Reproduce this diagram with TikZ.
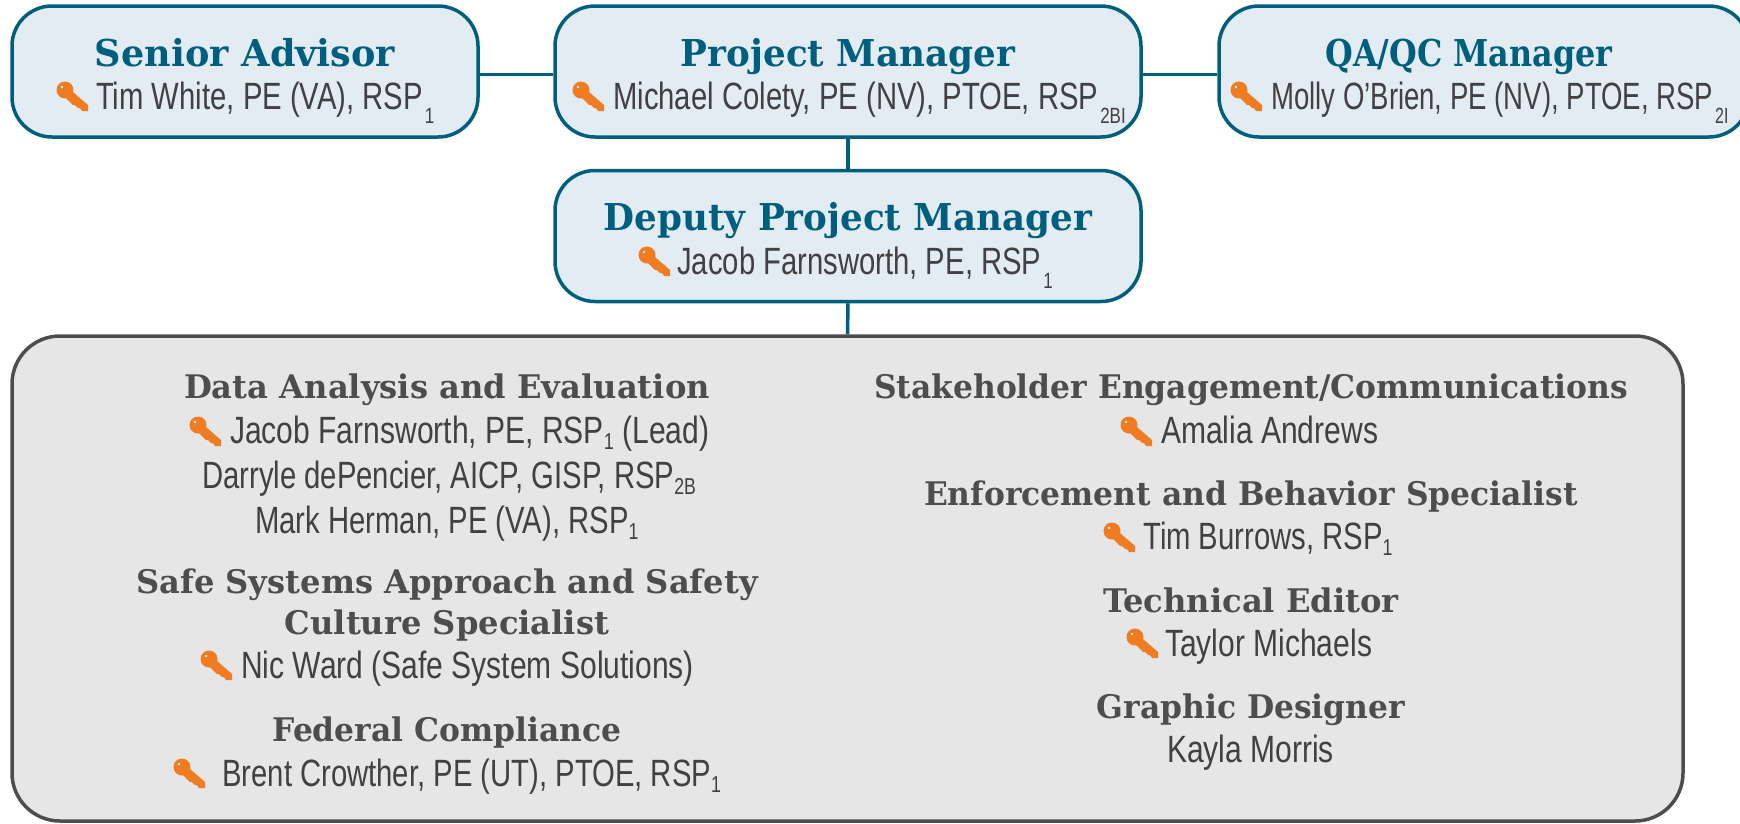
\documentclass[tikz,border=0pt]{standalone}
\usepackage{fontspec}
\setmainfont{Liberation Sans}
\newfontfamily\namefont[FakeStretch=0.77]{Liberation Sans}
\newfontfamily\namefontwide[FakeStretch=0.79]{Liberation Sans}
\newfontfamily\namefontslim[FakeStretch=0.725]{Liberation Sans}
\newfontfamily\titlefont[FakeStretch=0.99,BoldFont={DejaVu Serif Bold}]{DejaVu Serif}
\newfontfamily\titlefontslim[FakeStretch=0.965,BoldFont={DejaVu Serif Bold}]{DejaVu Serif}
\newfontfamily\titlefontqa[FakeStretch=0.86,BoldFont={DejaVu Serif Bold}]{DejaVu Serif}
\definecolor{leadblue}{HTML}{005F7F}
\definecolor{leadfill}{HTML}{E3ECF3}
\definecolor{teamfill}{HTML}{E6E6E6}
\definecolor{teamline}{HTML}{4D4D4D}
\definecolor{nametext}{HTML}{414042}
\definecolor{keyorange}{HTML}{F07C22}
\newcommand{\lowsub}[1]{\kern2pt\raisebox{-14pt}{\fontsize{22}{22}\selectfont #1}}
\newcommand{\teamsub}[1]{\raisebox{-6pt}{\fontsize{23}{23}\selectfont #1}}
\tikzset{
	leadbox/.style={draw=leadblue, fill=leadfill, line width=3.5pt, rounded corners=40pt, inner sep=0pt},
	teambox/.style={draw=teamline, fill=teamfill, line width=3.5pt, rounded corners=48pt, inner sep=0pt},
	linkline/.style={draw=leadblue, line width=3.5pt},
	leadtitle/.style={text=leadblue, inner sep=0pt, anchor=base, font=\titlefont\bfseries\fontsize{37}{37}\selectfont},
	teamtitle/.style={text=teamline, inner sep=0pt, anchor=base, font=\titlefont\bfseries\fontsize{32.5}{32.5}\selectfont},
	personname/.style={text=nametext, inner sep=0pt, anchor=base west, font=\namefont\fontsize{38}{38}\selectfont},
	keyicon/.pic={
		\fill[keyorange] (-7,-7) circle (8.5);
		\fill[keyorange] (-6,-11) -- (16,8) -- (16,14) -- (10,14) -- (8,11) -- (6,11) -- (3,8) -- (1,8) -- (-10,-3) -- cycle;
		\fill[leadfill!60] (-10,-10) circle (1.3);
	}
}
\begin{document}
\begin{tikzpicture}[x=1pt,y=-1pt]
	\useasboundingbox (0,0) rectangle (1740,823);
	% boxes
	\node[leadbox, minimum width=466pt, minimum height=131pt] (senior) at (245,71.5) {};
	\node[leadbox, minimum width=586pt, minimum height=131pt] (pm) at (848,71.5) {};
	\node[leadbox, minimum width=530pt, minimum height=131pt] (qaqc) at (1484,71.5) {};
	\node[leadbox, minimum width=586pt, minimum height=131pt] (deputy) at (848,236) {};
	\node[teambox, minimum width=1671pt, minimum height=485pt] (team) at (847.5,578.5) {};
	% links
	\draw[linkline] ([yshift=-3pt]senior.east) -- ([yshift=-3pt]pm.west);
	\draw[linkline] ([yshift=-3pt]pm.east) -- ([yshift=-3pt]qaqc.west);
	\draw[linkline] (pm.south) -- (deputy.north);
	\draw[linkline] (deputy.south) -- (team.north);
	% top boxes
	\node[leadtitle] (seniortitle) at (245,66) {Senior Advisor};
	\pic at (72,97) {keyicon};
	\node[personname] (seniorname) at (96,109) {Tim White, PE (VA), RSP\lowsub{1}};
	\node[leadtitle] (pmtitle) at (848,66) {\titlefontslim\bfseries Project Manager};
	\pic at (588,97) {keyicon};
	\node[personname] (pmname) at (613,109) {Michael Colety, PE (NV), PTOE, RSP\lowsub{2BI}};
	\node[leadtitle] (qaqctitle) at (1469,66) {\titlefontqa\bfseries QA/QC Manager};
	\pic at (1246,97) {keyicon};
	\node[personname] (qaqcname) at (1271,109) {\namefontslim Molly O’Brien, PE (NV), PTOE, RSP\lowsub{2I}};
	\node[leadtitle] (deputytitle) at (848,230) {\titlefontslim\bfseries Deputy Project Manager};
	\pic at (654,262) {keyicon};
	\node[personname] (deputyname) at (677,274) {Jacob Farnsworth, PE, RSP\lowsub{1}};
	% left column
	\node[teamtitle] (datatitle) at (447,398) {Data Analysis and Evaluation};
	\pic at (205,432) {keyicon};
	\node[personname] (jacob) at (230,443) {\namefontwide Jacob Farnsworth, PE, RSP\teamsub{1} (Lead)};
	\node[personname] (darryle) at (202,488) {Darryle dePencier, AICP, GISP, RSP\teamsub{2B}};
	\node[personname] (mark) at (255,533) {Mark Herman, PE (VA), RSP\teamsub{1}};
	\node[teamtitle] (safetitlea) at (447,593) {Safe Systems Approach and Safety};
	\node[teamtitle] (safetitleb) at (447,634) {Culture Specialist};
	\pic at (216,666) {keyicon};
	\node[personname] (nic) at (241,678) {\namefontwide Nic Ward (Safe System Solutions)};
	\node[teamtitle] (federaltitle) at (447,741) {\titlefontslim\bfseries Federal Compliance};
	\pic at (189,774) {keyicon};
	\node[personname] (brent) at (222,786) {Brent Crowther, PE (UT), PTOE, RSP\teamsub{1}};
	% right column
	\node[teamtitle] (stakeholdertitle) at (1251,398) {\titlefontslim\bfseries Stakeholder Engagement/Communications};
	\pic at (1136,432) {keyicon};
	\node[personname] (amalia) at (1161,443) {\namefontwide Amalia Andrews};
	\node[teamtitle] (enforcetitle) at (1251,505) {\titlefontslim\bfseries Enforcement and Behavior Specialist};
	\pic at (1119,538) {keyicon};
	\node[personname] (burrows) at (1143,549) {Tim Burrows, RSP\teamsub{1}};
	\node[teamtitle] (editortitle) at (1251,612) {Technical Editor};
	\pic at (1142,644) {keyicon};
	\node[personname] (taylor) at (1165,656) {\namefontwide Taylor Michaels};
	\node[teamtitle] (designertitle) at (1251,718) {\titlefontslim\bfseries Graphic Designer};
	\node[personname] (kayla) at (1167,762) {\namefontwide Kayla Morris};
\end{tikzpicture}
\end{document}
